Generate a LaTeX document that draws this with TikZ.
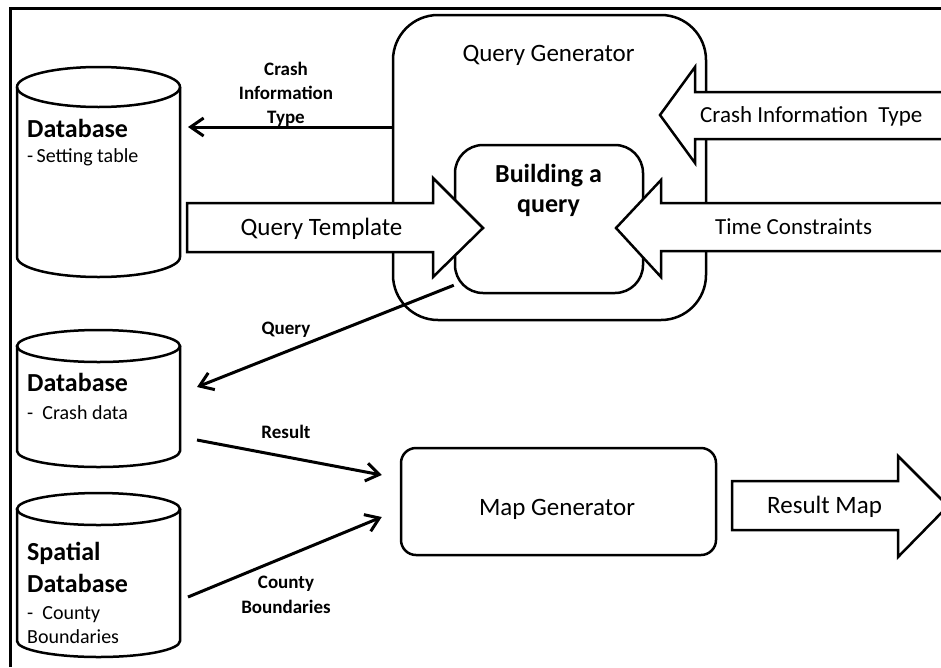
\documentclass[tikz,border=0pt]{standalone}
\usepackage{fontspec}
\setmainfont{Carlito}
\usetikzlibrary{arrows.meta,calc}
\tikzset{
  frameline/.style={line width=3pt, line join=miter},
  boxnode/.style={draw, line width=2.5pt, inner sep=0pt, fill=white},
  cylline/.style={line width=2.5pt},
  dbarea/.style={inner sep=0pt, outer sep=0pt},
  blockarrow/.style={draw, fill=white, line width=2.5pt, line join=miter},
  conn/.style={line width=3pt, -{Straight Barb[length=13pt,width=18pt]}},
  lbl/.style={font=\fontsize{19}{24}\selectfont\bfseries, inner sep=0pt, anchor=base},
  bigtxt/.style={font=\fontsize{25}{30}\selectfont, inner sep=0pt},
  midtxt/.style={font=\fontsize{23}{28}\selectfont, inner sep=0pt},
  dbtitle/.style={font=\fontsize{26}{30}\selectfont\bfseries, inner sep=0pt, anchor=base west},
  dbsub/.style={font=\fontsize{20}{24}\selectfont, inner sep=0pt, anchor=base west},
}
\begin{document}
\begin{tikzpicture}[x=1pt,y=-1pt]
\useasboundingbox (0,0) rectangle (941,667);
\fill[white] (0,0) rectangle (941,667);
% frame
\draw[frameline] (10,667) -- (10,8) -- (941,8);

% cylinders
\draw[cylline] (17,87) -- (17,257) arc[start angle=180,end angle=360,x radius=81.5pt,y radius=20pt] -- (180,87);
\draw[cylline] (98.5,87) ellipse[x radius=81.5pt,y radius=20pt];
\node[dbarea, minimum width=163pt, minimum height=210pt] (db1) at (98.5,172) {};

\draw[cylline] (17,346) -- (17,451) arc[start angle=180,end angle=360,x radius=81.5pt,y radius=16pt] -- (180,346);
\draw[cylline] (98.5,346) ellipse[x radius=81.5pt,y radius=16pt];
\node[dbarea, minimum width=163pt, minimum height=137pt] (db2) at (98.5,398.5) {};

\draw[cylline] (17,509) -- (17,641) arc[start angle=180,end angle=360,x radius=81.5pt,y radius=16pt] -- (180,509);
\draw[cylline] (98.5,509) ellipse[x radius=81.5pt,y radius=16pt];
\node[dbarea, minimum width=163pt, minimum height=164pt] (db3) at (98.5,575) {};

% cylinder texts
\node[dbtitle] (db1t) at (27,137) {Database};
\node[dbsub] (db1s) at (27,162) {-\,Setting table};
\node[dbtitle] (db2t) at (27,391) {Database};
\node[dbsub] (db2s) at (27,419) {-\ \ Crash data};
\node[dbtitle] (db3t) at (27,560) {Spatial};
\node[dbtitle] (db3u) at (27,592) {Database};
\node[dbsub] (db3s) at (27,619) {-\ \ County};
\node[dbsub] (db3v) at (27,643) {Boundaries};

% query generator
\node[boxnode, rounded corners=45pt, minimum width=313pt, minimum height=305pt] (qg) at (549.5,167.5) {};
\node[bigtxt, anchor=base] (qgt) at (548.5,61) {Query Generator};
\node[boxnode, rounded corners=28pt, minimum width=188pt, minimum height=148pt] (bq) at (549,219) {};
\node[font=\fontsize{26}{30}\selectfont\bfseries, inner sep=0pt, anchor=base] (bqt) at (548.5,182) {Building a};
\node[font=\fontsize{26}{30}\selectfont\bfseries, inner sep=0pt, anchor=base] (bqu) at (548.5,212) {query};

% map generator
\node[boxnode, rounded corners=15pt, minimum width=315pt, minimum height=107pt] (mg) at (558.5,501.5) {};
\node[bigtxt, anchor=base] (mgt) at (557,515) {Map Generator};

% block arrows
\draw[blockarrow] (187,203) -- (433,203) -- (433,178) -- (483,228) -- (433,277) -- (433,252) -- (187,252) -- cycle;
\node[bigtxt, anchor=base] (qtt) at (321.5,235) {Query Template};

\fill[white] (948,92) -- (695,92) -- (695,67) -- (660,115) -- (695,163) -- (695,139) -- (948,139) -- cycle;
\draw[blockarrow, fill=none] (948,92) -- (695,92) -- (695,67) -- (660,115) -- (695,163) -- (695,139) -- (948,139);
\node[midtxt, anchor=base west] (cit) at (700,122) {Crash Information\ \ Type};

\fill[white] (948,203) -- (661,203) -- (661,180) -- (616,228) -- (661,277) -- (661,251) -- (948,251) -- cycle;
\draw[blockarrow, fill=none] (948,203) -- (661,203) -- (661,180) -- (616,228) -- (661,277) -- (661,251) -- (948,251);
\node[midtxt, anchor=base west] (tct) at (715,234) {Time Constraints};

\draw[blockarrow] (732,481) -- (898,481) -- (898,456) -- (948,506) -- (898,557) -- (898,530) -- (732,530) -- cycle;
\node[bigtxt, anchor=base west] (rmt) at (767,513) {Result Map};

% connectors
\draw[conn] ($(qg.west)+(1,-40.5)$) -- ($(db1.east)+(8,-45)$);
\node[lbl] (l1) at (286,75) {Crash};
\node[lbl] (l2) at (286,99) {Information};
\node[lbl] (l3) at (286,123) {Type};

\draw[conn] ($(bq.south west)+(0,-9)$) -- ($(db2.east)+(17,-11.5)$);
\node[lbl] (l4) at (286,334) {Query};

\draw[conn] ($(db2.east)+(17,41.5)$) -- ($(mg.west)+(-18,-26.5)$);
\node[lbl] (l5) at (286,438) {Result};

\draw[conn] ($(db3.east)+(8,22)$) -- ($(mg.west)+(-18,15.5)$);
\node[lbl] (l6) at (286,588) {County};
\node[lbl] (l7) at (286,613) {Boundaries};
\end{tikzpicture}
\end{document}
